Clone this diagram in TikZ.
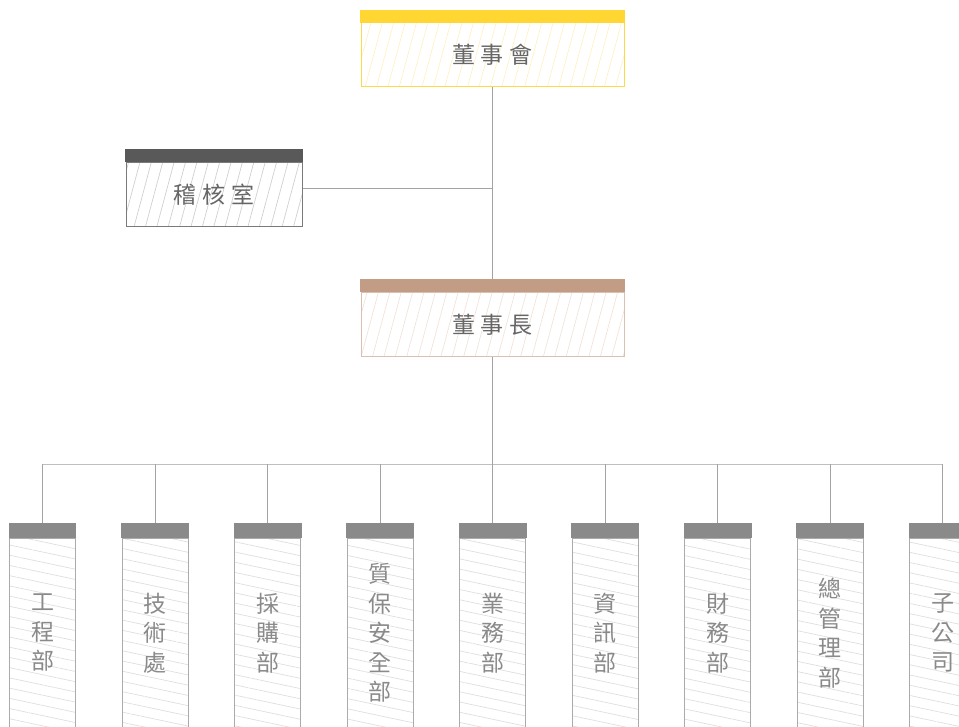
\documentclass[tikz,border=0pt]{standalone}
\usepackage{fontspec}
\newfontfamily\cjk{Noto Sans CJK TC}
\usetikzlibrary{patterns.meta}

\definecolor{goldbar}{HTML}{FFD632}
\definecolor{goldline}{HTML}{FFD84C}
\definecolor{goldhatch}{HTML}{FFF1C4}
\definecolor{tanbar}{HTML}{C29C84}
\definecolor{tanline}{HTML}{DAC0B0}
\definecolor{tanhatch}{HTML}{F1E2DA}
\definecolor{darkbar}{HTML}{595959}
\definecolor{darkline}{HTML}{7A7A7A}
\definecolor{darkhatch}{HTML}{CFCFCF}
\definecolor{deptbar}{HTML}{8A8A8A}
\definecolor{deptline}{HTML}{ABABAB}
\definecolor{depthatch}{HTML}{DEDEDE}
\definecolor{headtext}{HTML}{666666}
\definecolor{depttext}{HTML}{8A8A8A}
\definecolor{wire}{HTML}{A3A3A3}

\newcommand{\gp}{\hspace{6pt}}

\begin{document}
\begin{tikzpicture}[x=1pt, y=-1pt,
  headbox/.style={draw=#1line, line width=1pt, inner sep=0pt,
    minimum height=64pt,
    pattern={Lines[angle=75,distance=11pt,line width=0.7pt]}, pattern color=#1hatch,
    font=\cjk\fontsize{23}{28}\selectfont, text=headtext},
  deptbox/.style={draw=deptline, line width=1pt, inner sep=0pt,
    minimum width=66pt, minimum height=190pt, align=center,
    pattern={Lines[angle=-12,distance=10pt,line width=0.7pt]}, pattern color=depthatch,
    font=\cjk\fontsize{23}{29.5}\selectfont, text=depttext},
  link/.style={draw=wire, line width=1pt}]

  \useasboundingbox (0,0) rectangle (959,727);
  \clip (0,0) rectangle (959,727);

  \newcommand\W{112.5}

  %% head boxes
  \node[headbox=gold, minimum width=263pt] (council) at (492.5,55) {董\gp 事\gp 會};
  \node[headbox=dark, minimum width=176pt] (audit) at (214,195) {稽\gp 核\gp 室};
  \node[headbox=tan, minimum width=263pt] (chair) at (492.5,325) {董\gp 事\gp 長};

  \foreach \n/\c in {council/goldbar, audit/darkbar, chair/tanbar}
    \fill[\c] ([xshift=-0.5pt,yshift=13pt]\n.north west) rectangle ([xshift=0.5pt]\n.north east);

  %% departments
  \foreach \i/\t in {1/{工\\程\\部}, 2/{技\\術\\處}, 3/{採\\購\\部},
                     4/{質\\保\\安\\全\\部}, 5/{業\\務\\部}, 6/{資\\訊\\部},
                     7/{財\\務\\部}, 8/{總\\管\\理\\部}, 9/{子\\公\\司}} {
    \node[deptbox] (dept\i) at ({42.5+(\i-1)*\W},633) {\t};
    \fill[deptbar] ([xshift=-0.5pt,yshift=15pt]dept\i.north west) rectangle ([xshift=0.5pt]dept\i.north east);
  }

  \coordinate (hub) at (492.5,464);

  \draw[link] (council.south) -- ([yshift=13pt]chair.north); % council->chair
  \draw[link] ([yshift=6.5pt]audit.east) -- ([yshift=6.5pt]audit.east -| council.south); % audit
  \draw[link] (chair.south) -- (hub); % chair->hub
  \draw[link, draw=wire!70] (dept1.north |- hub) -- (dept9.north |- hub);
  \foreach \i in {1,...,9}
    \draw[link] (dept\i.north |- hub) -- ([yshift=15pt]dept\i.north);

\end{tikzpicture}
\end{document}
